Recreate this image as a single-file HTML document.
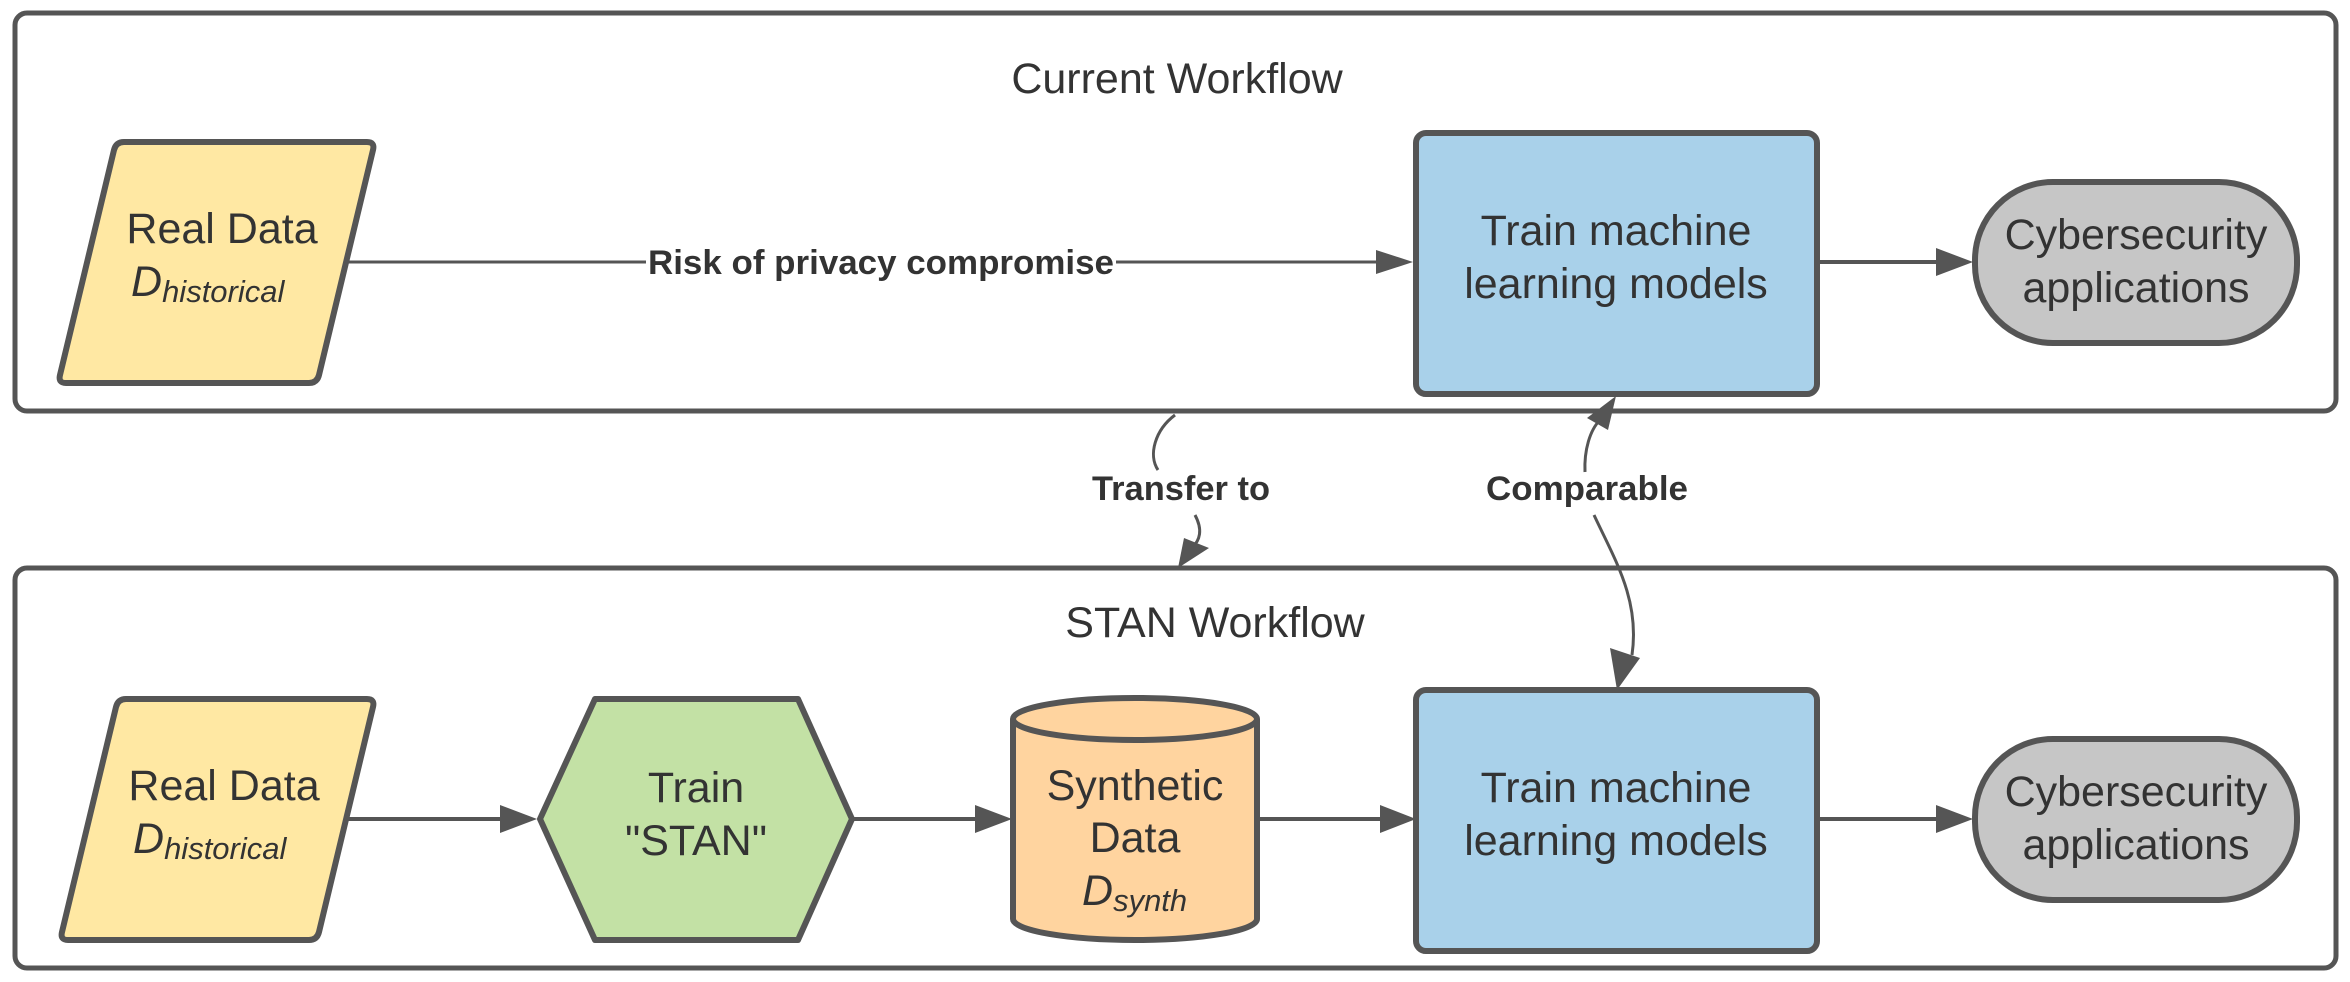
<!DOCTYPE html>
<html><head><meta charset="utf-8"><style>
html,body{margin:0;padding:0;background:#fff}
svg{display:block}
text{font-family:"Liberation Sans",Arial,sans-serif;fill:#333}
</style></head><body>
<svg width="2350" height="982" viewBox="0 0 2350 982" xmlns="http://www.w3.org/2000/svg">
<!-- outer boxes -->
<rect x="15" y="13" width="2321" height="398" rx="12" fill="#fff" stroke="#555" stroke-width="5"/>
<rect x="15" y="568" width="2321" height="400" rx="12" fill="#fff" stroke="#555" stroke-width="5"/>
<text x="1177" y="93" font-size="43" text-anchor="middle">Current Workflow</text>
<text x="1215" y="637" font-size="43" text-anchor="middle">STAN Workflow</text>

<!-- TOP ROW -->
<path d="M124,142 L367,142 Q375,142 373,150 L319,375 Q317,383 309,383 L66,383 Q58,383 60,375 L114,150 Q116,142 124,142 Z" fill="#FFE8A3" stroke="#555" stroke-width="6"/>
<text x="222" y="243" font-size="43" text-anchor="middle">Real Data</text>
<text x="131" y="296" font-size="43" font-style="italic">D<tspan font-size="31" dy="6">historical</tspan></text>
<line x1="347" y1="262" x2="1380" y2="262" stroke="#555" stroke-width="3"/>
<rect x="646" y="240" width="470" height="44" fill="#fff"/>
<text x="881" y="274" font-size="34" font-weight="bold" text-anchor="middle" textLength="466" lengthAdjust="spacingAndGlyphs">Risk of privacy compromise</text>
<polygon points="1376,250 1413,262 1376,274" fill="#555"/>
<rect x="1416" y="133" width="401" height="261" rx="10" fill="#A9D1EA" stroke="#555" stroke-width="6"/>
<text x="1616" y="245" font-size="43" text-anchor="middle">Train machine</text>
<text x="1616" y="298" font-size="43" text-anchor="middle">learning models</text>
<line x1="1817" y1="262" x2="1940" y2="262" stroke="#555" stroke-width="4"/>
<polygon points="1936,248 1973,262 1936,276" fill="#555"/>
<rect x="1975" y="182" width="322" height="161" rx="78" fill="#C6C6C6" stroke="#555" stroke-width="6"/>
<text x="2136" y="249" font-size="43" text-anchor="middle">Cybersecurity</text>
<text x="2136" y="302" font-size="43" text-anchor="middle">applications</text>

<!-- connectors between -->
<path d="M1175,415 C1155,430 1148,455 1158,470" fill="none" stroke="#555" stroke-width="3"/>
<text x="1181" y="500" font-size="34" font-weight="bold" text-anchor="middle" textLength="178" lengthAdjust="spacingAndGlyphs">Transfer to</text>
<path d="M1195,515 C1203,530 1200,540 1192,548" fill="none" stroke="#555" stroke-width="3"/>
<polygon points="1178,568 1184,538 1209,548" fill="#555"/>
<path d="M1585,472 C1584,450 1590,430 1600,420" fill="none" stroke="#555" stroke-width="3"/>
<polygon points="1616,396 1587,418 1608,430" fill="#555"/>
<text x="1587" y="500" font-size="34" font-weight="bold" text-anchor="middle" textLength="202" lengthAdjust="spacingAndGlyphs">Comparable</text>
<path d="M1594,515 C1615,560 1640,600 1632,655" fill="none" stroke="#555" stroke-width="3"/>
<polygon points="1617,690 1610,648 1640,658" fill="#555"/>

<!-- BOTTOM ROW -->
<path d="M126,699 L367,699 Q375,699 373,707 L319,932 Q317,940 309,940 L68,940 Q60,940 62,932 L116,707 Q118,699 126,699 Z" fill="#FFE8A3" stroke="#555" stroke-width="6"/>
<text x="224" y="800" font-size="43" text-anchor="middle">Real Data</text>
<text x="133" y="853" font-size="43" font-style="italic">D<tspan font-size="31" dy="6">historical</tspan></text>
<line x1="347" y1="819" x2="505" y2="819" stroke="#555" stroke-width="4"/>
<polygon points="500,805 537,819 500,833" fill="#555"/>
<polygon points="595,699 798,699 852,819 798,940 595,940 540,819" fill="#C3E1A5" stroke="#555" stroke-width="6" stroke-linejoin="round"/>
<text x="696" y="802" font-size="43" text-anchor="middle">Train</text>
<text x="696" y="855" font-size="43" text-anchor="middle">"STAN"</text>
<line x1="852" y1="819" x2="980" y2="819" stroke="#555" stroke-width="4"/>
<polygon points="975,805 1012,819 975,833" fill="#555"/>
<path d="M1013,719 L1013,919 A122,21 0 0 0 1257,919 L1257,719 A122,21 0 0 0 1013,719 A122,21 0 0 0 1257,719" fill="#FFD49F" stroke="#555" stroke-width="6"/>
<text x="1135" y="800" font-size="43" text-anchor="middle">Synthetic</text>
<text x="1135" y="852" font-size="43" text-anchor="middle">Data</text>
<text x="1082" y="905" font-size="43" font-style="italic">D<tspan font-size="31" dy="6">synth</tspan></text>
<line x1="1257" y1="819" x2="1385" y2="819" stroke="#555" stroke-width="4"/>
<polygon points="1380,805 1416,819 1380,833" fill="#555"/>
<rect x="1416" y="690" width="401" height="261" rx="10" fill="#A9D1EA" stroke="#555" stroke-width="6"/>
<text x="1616" y="802" font-size="43" text-anchor="middle">Train machine</text>
<text x="1616" y="855" font-size="43" text-anchor="middle">learning models</text>
<line x1="1817" y1="819" x2="1940" y2="819" stroke="#555" stroke-width="4"/>
<polygon points="1936,805 1973,819 1936,833" fill="#555"/>
<rect x="1975" y="739" width="322" height="161" rx="78" fill="#C6C6C6" stroke="#555" stroke-width="6"/>
<text x="2136" y="806" font-size="43" text-anchor="middle">Cybersecurity</text>
<text x="2136" y="859" font-size="43" text-anchor="middle">applications</text>
</svg>
</body></html>
